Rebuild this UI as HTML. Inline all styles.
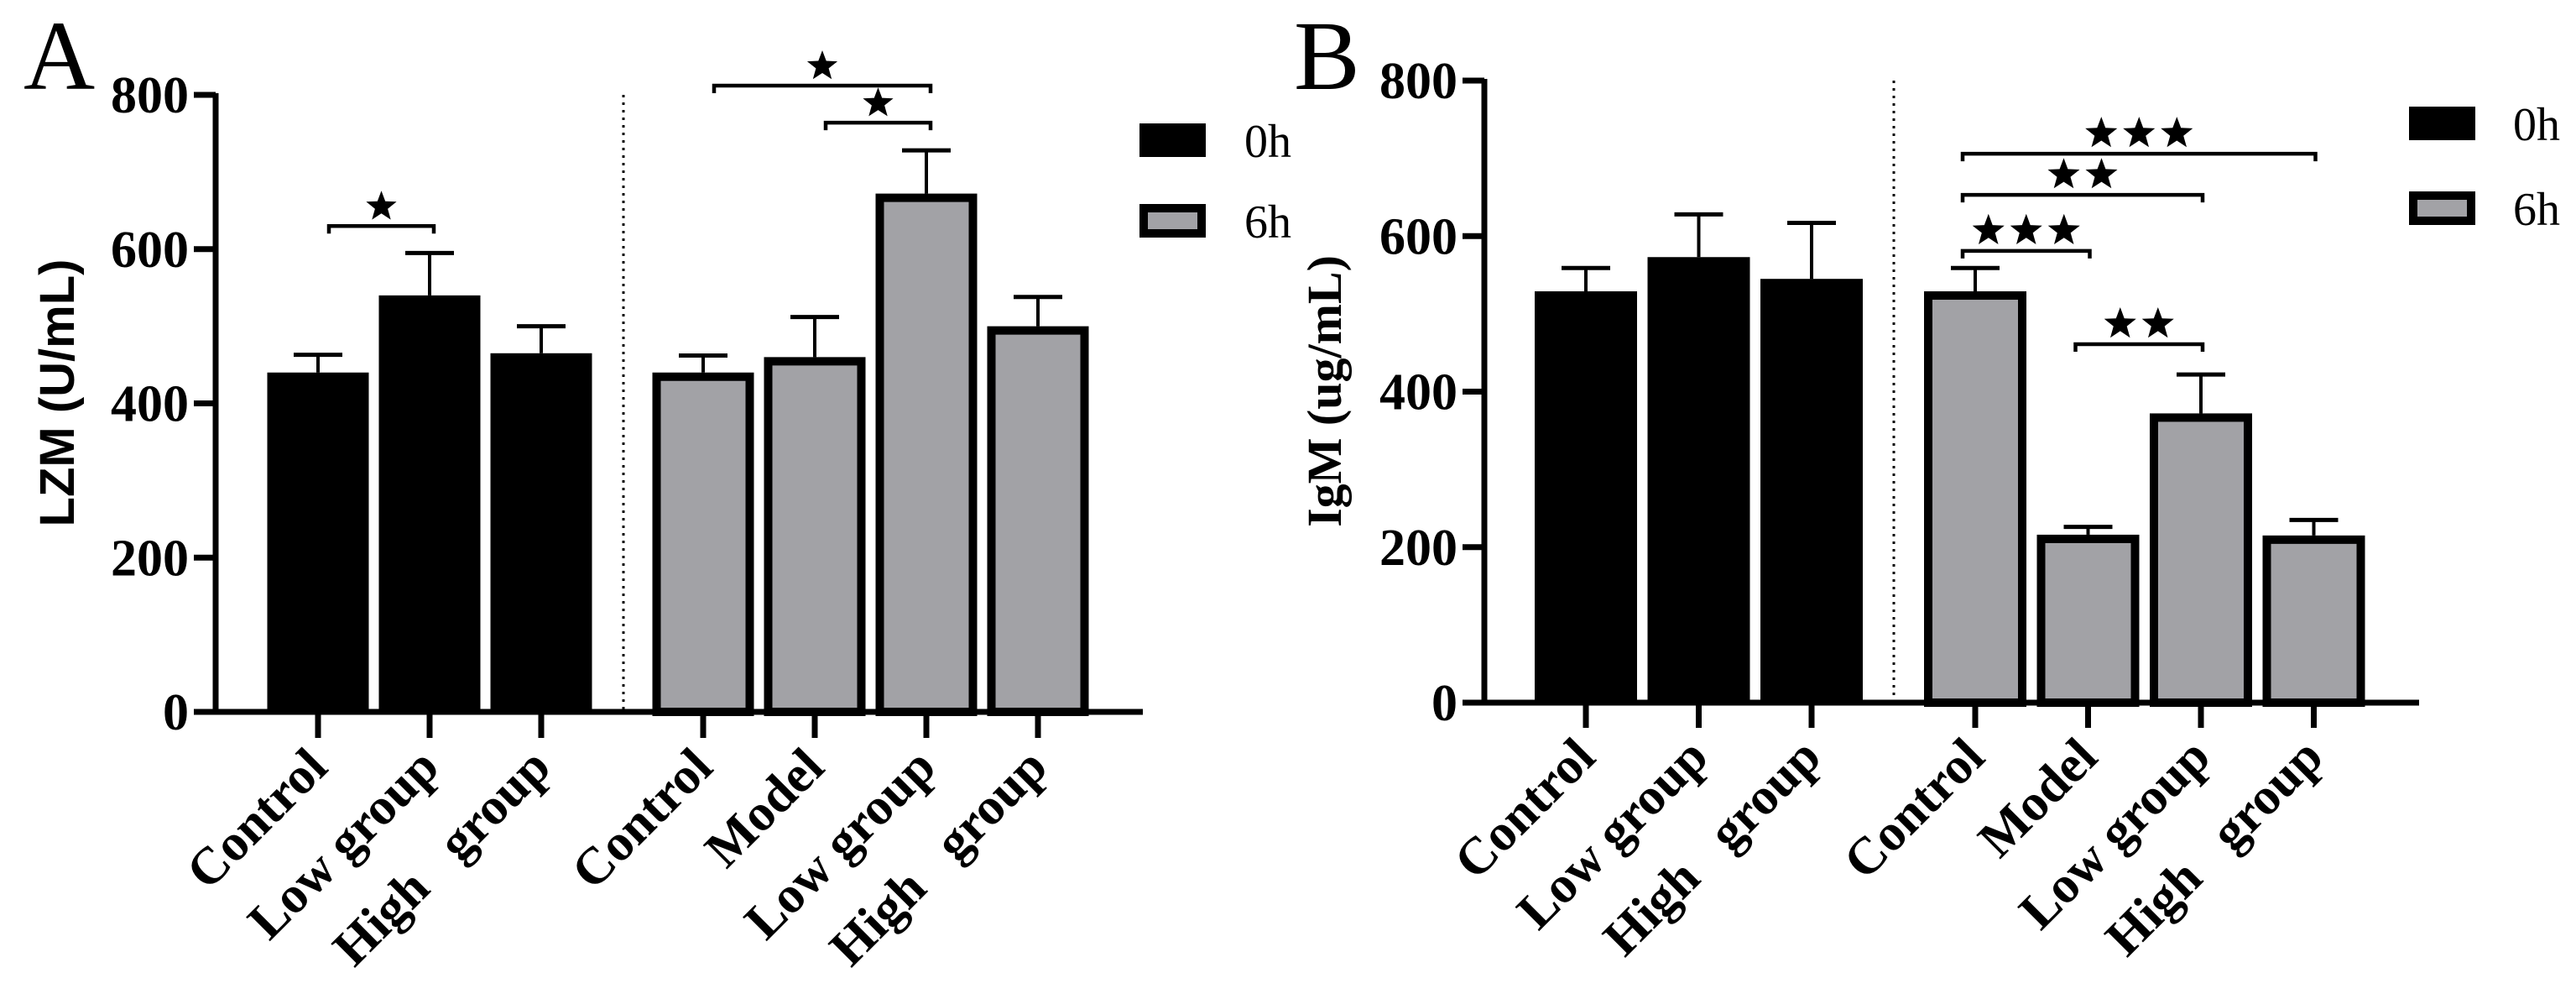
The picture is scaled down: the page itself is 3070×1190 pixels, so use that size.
<!DOCTYPE html>
<html><head><meta charset="utf-8"><style>
html,body{margin:0;padding:0;background:#fff;}
svg{display:block;}
text{font-family:"Liberation Serif",serif;}
</style></head>
<body>
<svg id="chart" width="3070" height="1190" viewBox="0 0 3070 1190" xmlns="http://www.w3.org/2000/svg"></svg>
<script>
const categoriesA = ["Control","Low group","High\u00a0\u00a0\u00a0group","Control","Model","Low group","High\u00a0\u00a0\u00a0group"];
const seriesA = [0,0,0,1,1,1,1];
const valuesA = [440,540,465,440,460,672,500];
const errorsA = [463,595,500,462,512,728,538];
const categoriesB = ["Control","Low group","High\u00a0\u00a0\u00a0group","Control","Model","Low group","High\u00a0\u00a0\u00a0group"];
const seriesB = [0,0,0,1,1,1,1];
const valuesB = [529,573,545,529,216,372,215];
const errorsB = [559,628,617,559,226,422,235];
const yTicks = [0,200,400,600,800];
const legendLabels = ["0h","6h"];
const sigA = [[0,1,630,1],[3,5,812,1],[4,5,764,1]];
const sigB = [[3,6,706,3],[3,5,653,2],[3,4,581,3],[4,5,461,2]];

const NS="http://www.w3.org/2000/svg";
const svg=document.getElementById('chart');
function el(tag,attrs,parent){const e=document.createElementNS(NS,tag);for(const k in attrs)e.setAttribute(k,attrs[k]);(parent||svg).appendChild(e);return e;}
function starPts(cx,cy,r){let p=[];for(let i=0;i<10;i++){const a=-Math.PI/2+i*Math.PI/5;const rr=i%2?r*0.42:r;p.push((cx+rr*Math.cos(a)).toFixed(1)+','+(cy+rr*Math.sin(a)).toFixed(1));}return p.join(' ');}

function panel(cfg){
  const g=el('g',{});
  
  
  const y=v=>cfg.y0-(v/800)*(cfg.y0-cfg.y800);
  const x=i=>cfg.x0+i*cfg.step+(i>=3?cfg.gap:0);
  const L=el('text',{x:cfg.letterX,y:cfg.letterY,'font-size':118,fill:'#000'},g);L.textContent=cfg.letter;
  
  const ya=el('line',{x1:cfg.ax,y1:cfg.y800-2,x2:cfg.ax,y2:cfg.y0+3,stroke:'#000','stroke-width':7},g);
  
  yTicks.forEach(t=>{
    el('line',{x1:cfg.ax-26,y1:y(t),x2:cfg.ax,y2:y(t),stroke:'#000','stroke-width':7},g);
    const tx=el('text',{x:cfg.ax-32,y:y(t)+21,'font-size':62,'font-weight':'bold','text-anchor':'end'},g);
    tx.textContent=t;
    
  });
  const yt=el('text',{transform:`translate(${cfg.ylx},${cfg.yly}) rotate(-90)`,'font-size':cfg.ylSize,'font-weight':'bold','text-anchor':'middle',style:cfg.ylSans?'font-family:"Liberation Sans",sans-serif':''},g);
  yt.textContent=cfg.ylabel;
  
  const dv=el('line',{x1:cfg.div,y1:cfg.y800,x2:cfg.div,y2:cfg.y0,stroke:'#000','stroke-width':3,'stroke-dasharray':'3 6'},g);
  
  cfg.vals.forEach((v,i)=>{
    const cx=x(i),w=cfg.bw;
    const ex=el('line',{x1:cx,y1:y(cfg.errs[i]),x2:cx,y2:y(v),stroke:'#000','stroke-width':4},g);
    
    const ec=el('line',{x1:cx-29,y1:y(cfg.errs[i]),x2:cx+29,y2:y(cfg.errs[i]),stroke:'#000','stroke-width':5},g);
    
    let b;
    if(cfg.ser[i]===0){b=el('rect',{x:cx-w/2,y:y(v),width:w,height:cfg.y0-y(v),fill:'#000'},g);}
    else{b=el('rect',{x:cx-w/2+5,y:y(v)+5,width:w-10,height:cfg.y0-y(v)-5,fill:'#a2a2a6',stroke:'#000','stroke-width':10},g);}
    
    
    el('line',{x1:cx,y1:cfg.y0,x2:cx,y2:cfg.tickBot,stroke:'#000','stroke-width':7},g);
    const lb=el('text',{transform:`translate(${cx+cfg.lox},${cfg.tickBot+cfg.loy}) rotate(-45)`,'font-size':62,'font-weight':'bold','text-anchor':'end'},g);
    lb.textContent=cfg.cats[i];
    
  });
  const xa=el('line',{x1:cfg.ax-26,y1:cfg.y0,x2:cfg.xend,y2:cfg.y0,stroke:'#000','stroke-width':7},g);
  
  cfg.sig.forEach(s=>{
    const x1=x(s[0])-cfg.sigPad,x2=x(s[1])-cfg.sigPad2,yy=y(s[2]);
    const br=el('path',{d:`M${x1},${yy+9} V${yy} H${x2} V${yy+9}`,fill:'none',stroke:'#000','stroke-width':4.5},g);
    
    const mid=(x1+x2)/2,n=s[3],sp=cfg.starSp;
    for(let k=0;k<n;k++){
      const st=el('polygon',{points:starPts(mid+(k-(n-1)/2)*sp,yy-cfg.starR-4,cfg.starR),fill:'#000'},g);
      
    }
  });
  legendLabels.forEach((lab,j)=>{
    const ly=cfg.legY+j*cfg.legStep;
    let r;
    if(j===0)r=el('rect',{x:cfg.legX,y:ly,width:79,height:40,fill:'#000'},g);
    else r=el('rect',{x:cfg.legX+5,y:ly+5,width:69,height:30,fill:'#a2a2a6',stroke:'#000','stroke-width':10},g);
    
    const t=el('text',{x:cfg.legX+cfg.legTx,y:ly+40,'font-size':56},g);t.textContent=lab;
    
  });
}

panel({name:'panel-a-lzm',letter:'A',letterX:28,letterY:106,ax:257,y0:848,y800:113,x0:379,step:133,gap:60,bw:121,
  vals:valuesA,errs:errorsA,ser:seriesA,cats:categoriesA,div:743,xend:1362,tickBot:879,lox:14,loy:38,
  ylabel:'LZM (U/mL)',ylx:88,yly:468,ylSize:58,ylSans:true,sig:sigA,sigPad:-13,sigPad2:-5,starR:19,starSp:38,
  legX:1358,legY:147,legStep:96,legTx:125});
panel({name:'panel-b-igm',letter:'B',letterX:1542,letterY:106,ax:1769,y0:837,y800:96,x0:1890,step:134.5,gap:60.5,bw:122,
  vals:valuesB,errs:errorsB,ser:seriesB,cats:categoriesB,div:2257,xend:2883,tickBot:867,lox:14,loy:38,
  ylabel:'IgM (ug/mL)',ylx:1598,yly:466,ylSize:58,ylSans:false,sig:sigB,sigPad:15,sigPad2:-2,starR:20,starSp:45,
  legX:2871,legY:127,legStep:101,legTx:124});
</script>
</body></html>
